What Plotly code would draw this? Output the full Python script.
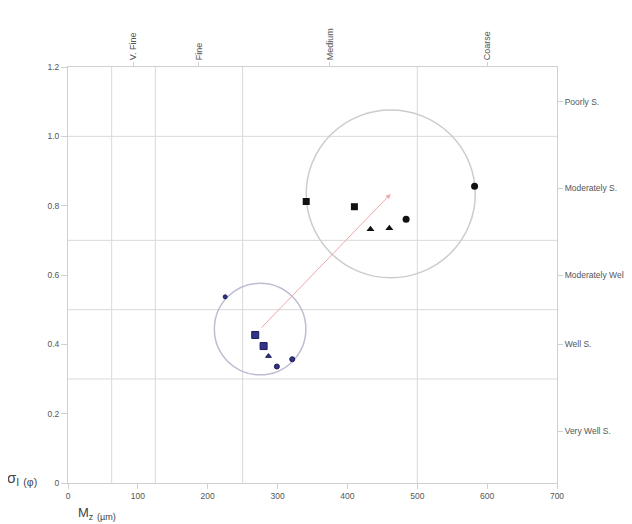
import plotly.graph_objects as go

# ---- data ----
black_x = [341, 410, 433, 460, 484, 582]
black_y = [0.812, 0.797, 0.732, 0.735, 0.761, 0.856]
black_sym = ["square", "square", "triangle-up", "triangle-up", "circle", "circle"]

blue_x = [225, 268, 280, 287, 299, 321]
blue_y = [0.537, 0.427, 0.395, 0.366, 0.336, 0.357]
blue_sym = ["circle", "square", "square", "triangle-up", "circle", "circle"]
blue_size = [4, 7, 7, 5, 5, 5]

# cluster circles: centre x, centre y, radius x, radius y
big_circle = [462, 0.834, 121, 0.242]
small_circle = [275, 0.444, 65.5, 0.132]

size_bounds = [62.5, 125, 250, 500]
size_classes = ["V. Fine", "Fine", "Medium", "Coarse"]
size_class_pos = [93.75, 187.5, 375, 600]

sort_bounds = [0.3, 0.5, 0.7, 1.0]
sort_classes = ["Poorly S.", "Moderately S.", "Moderately Well S.", "Well S.", "Very Well S."]
sort_class_pos = [1.1, 0.85, 0.6, 0.4, 0.15]

x_ticks = [0, 100, 200, 300, 400, 500, 600, 700]
y_ticks = [0, 0.2, 0.4, 0.6, 0.8, 1.0, 1.2]
y_ticktext = ["0", "0.2", "0.4", "0.6", "0.8", "1.0", "1.2"]

GRID = "#d9d9d9"
AXIS = "#d0d0d0"
FONT = "Liberation Sans, Arial"
TICKF = dict(family=FONT, size=8.5, color="#555555")
TOPF = dict(family=FONT, size=9, color="#555555")

fig = go.Figure()

fig.add_trace(go.Scatter(
    x=black_x, y=black_y, mode="markers",
    marker=dict(symbol=black_sym, size=7, color="#111111"),
    showlegend=False))
fig.add_trace(go.Scatter(
    x=blue_x, y=blue_y, mode="markers",
    marker=dict(symbol=blue_sym, size=blue_size, color="#33338a",
                line=dict(color="#1a1a55", width=1), opacity=1),
    showlegend=False))
# dummy traces to activate secondary axes
fig.add_trace(go.Scatter(x=[None], y=[None], xaxis="x2", yaxis="y", showlegend=False))
fig.add_trace(go.Scatter(x=[None], y=[None], xaxis="x", yaxis="y2", showlegend=False))

shapes = []
for b in size_bounds:
    shapes.append(dict(type="line", xref="x", yref="y", x0=b, x1=b, y0=0, y1=1.2,
                       line=dict(color=GRID, width=1), layer="below"))
for b in sort_bounds:
    shapes.append(dict(type="line", xref="x", yref="y", x0=0, x1=700, y0=b, y1=b,
                       line=dict(color=GRID, width=1), layer="below"))
for c, col in [(big_circle, "#cccccc"), (small_circle, "#bdbdd2")]:
    shapes.append(dict(type="circle", xref="x", yref="y",
                       x0=c[0] - c[2], x1=c[0] + c[2], y0=c[1] - c[3], y1=c[1] + c[3],
                       line=dict(color=col, width=1.5), layer="below"))
fig.update_layout(shapes=shapes)

fig.add_annotation(x=big_circle[0], y=big_circle[1], ax=small_circle[0], ay=small_circle[1],
                   xref="x", yref="y", axref="x", ayref="y", text="", showarrow=True,
                   arrowhead=2, arrowsize=1, arrowwidth=1, arrowcolor="#f0a8a8")

# page body has an 8px margin; compensate so the plot lands where the reference has it
OFF = 8
W, H = 632 - OFF, 524 - OFF
L, T, R, B = 60, 59, 75, 41
pw, ph = W - L - R, H - T - B
def px(xp): return (xp - OFF - L) / pw
def py(yp): return (H - B - (yp - OFF)) / ph

fig.add_annotation(x=px(22), y=py(478), xref="paper", yref="paper", showarrow=False,
                   text="σ<sub>I</sub> <sub>(φ)</sub>", xanchor="center", yanchor="middle",
                   font=dict(family=FONT, size=15, color="#444444"))
fig.add_annotation(x=px(97), y=py(513), xref="paper", yref="paper", showarrow=False,
                   text="M<sub>z</sub> <sub>(µm)</sub>", xanchor="center", yanchor="middle",
                   font=dict(family=FONT, size=13, color="#444444"))

common = dict(showgrid=False, zeroline=False, showline=True, linecolor=AXIS, linewidth=1,
              tickcolor=AXIS, ticks="outside", automargin=False)

fig.update_layout(
    width=W, height=H,
    margin=dict(l=L, r=R, t=T, b=B, autoexpand=False),
    plot_bgcolor="white", paper_bgcolor="white",
    xaxis=dict(range=[0, 700], tickvals=x_ticks, ticklen=5, tickfont=TICKF, **common),
    xaxis2=dict(range=[0, 700], overlaying="x", side="top", tickvals=size_class_pos,
                ticktext=size_classes, tickangle=-90, ticklen=4, tickfont=TOPF, **common),
    yaxis=dict(range=[0, 1.2], tickvals=y_ticks, ticktext=y_ticktext, ticklen=6,
               tickfont=TICKF, **common),
    yaxis2=dict(range=[0, 1.2], overlaying="y", side="right", tickvals=sort_class_pos,
                ticktext=sort_classes, ticklen=5, tickfont=TICKF, **common),
)

fig.write_html("out.html")
